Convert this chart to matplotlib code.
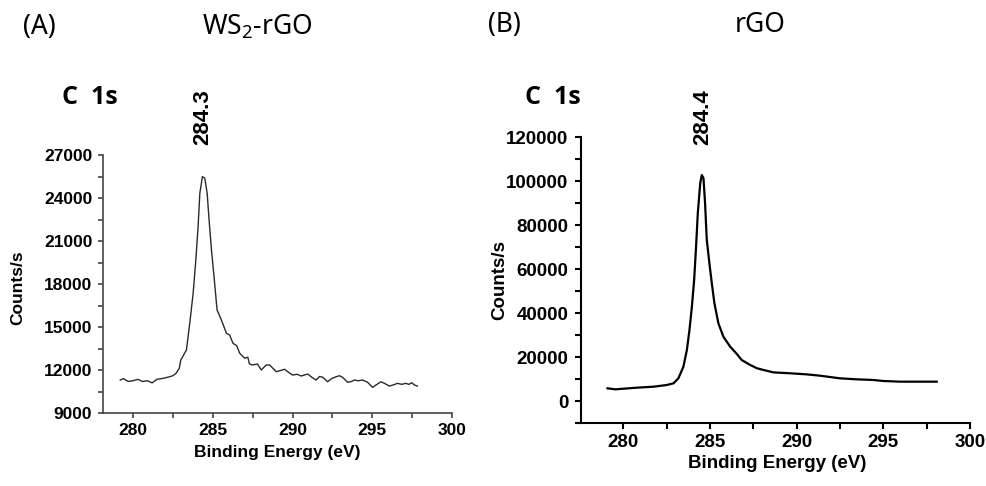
import matplotlib
matplotlib.use("Agg")
import matplotlib.pyplot as plt
from matplotlib.ticker import MultipleLocator
from matplotlib.font_manager import FontProperties

plt.rcParams['mathtext.fontset'] = 'custom'
plt.rcParams['mathtext.rm'] = 'Noto Sans'

# WS2-rGO, C 1s
energy_a = [279.2, 279.4, 279.7, 280.0, 280.3, 280.6, 280.9, 281.2, 281.5, 281.9,
            282.2, 282.5, 282.7, 282.9, 283.0, 283.35, 283.56, 283.77, 283.94, 284.08,
            284.19, 284.35, 284.5, 284.65, 284.77, 284.92, 285.08, 285.27, 285.54, 285.86,
            286.06, 286.27, 286.5, 286.69, 287.0, 287.2, 287.3, 287.5, 287.8, 288.04,
            288.35, 288.56, 288.77, 288.98, 289.2, 289.5, 289.8, 290.0, 290.3, 290.54,
            290.75, 290.96, 291.2, 291.48, 291.7, 291.9, 292.2, 292.45, 292.73, 292.95,
            293.14, 293.46, 293.7, 293.88, 294.1, 294.4, 294.7, 295.02, 295.3, 295.54,
            295.8, 296.06, 296.3, 296.58, 296.85, 297.1, 297.3, 297.48, 297.65, 297.83]
counts_a = [11300, 11400, 11200, 11250, 11350, 11200, 11250, 11100, 11350, 11420,
            11500, 11600, 11770, 12120, 12700, 13400, 15280, 17350, 19680, 22000,
            24330, 25490, 25380, 24330, 22470, 20370, 18510, 16190, 15490, 14560,
            14440, 13860, 13700, 13170, 12820, 12890, 12420, 12350, 12420, 12000,
            12350, 12350, 12120, 11880, 11950, 12050, 11800, 11650, 11700, 11580,
            11650, 11720, 11500, 11300, 11550, 11490, 11180, 11400, 11530, 11600,
            11490, 11140, 11200, 11300, 11250, 11300, 11150, 10790, 11000, 11180,
            11050, 10880, 10950, 11070, 11000, 11070, 11000, 11110, 10950, 10880]

# rGO, C 1s
energy_b = [279.08, 279.52, 280.77, 281.73, 282.5, 282.89, 283.17, 283.46, 283.66, 283.81,
            283.95, 284.08, 284.19, 284.29, 284.43, 284.52, 284.62, 284.71, 284.81, 284.96,
            285.1, 285.25, 285.48, 285.77, 286.16, 286.54, 286.83, 287.31, 287.7, 288.08,
            288.66, 289.62, 290.58, 291.35, 292.5, 293.47, 294.43, 295.0, 295.97, 297.12,
            298.08]
counts_b = [5770, 5300, 6050, 6500, 7270, 8050, 10300, 15600, 23200, 32300,
            42900, 55000, 70100, 85300, 98900, 102700, 101200, 89900, 73200, 62600,
            53500, 44400, 35300, 29200, 24700, 21400, 18600, 16400, 14900, 14100,
            13000, 12600, 12100, 11500, 10300, 9850, 9550, 9090, 8790, 8790,
            8790]

panel_tags = ["(A)", "(B)"]
panel_titles = [r"WS$_\mathregular{2}$-rGO", "rGO"]
peak_labels = ["284.3", "284.4"]

fig = plt.figure(figsize=(9.87, 4.86), dpi=100)
W, H = 987.0, 486.0

def fx(px):
    return px / W

def fy(py):
    return 1 - py / H

bold = dict(family='Liberation Sans', weight='bold')

# panel A
axa = fig.add_axes([fx(102.7), fy(413), fx(452) - fx(102.7), fy(155) - fy(413)])
axa.plot(energy_a, counts_a, color='#2a2a2a', lw=1.0)
axa.set_xlim(278.1, 300)
axa.set_ylim(9000, 27000)
axa.yaxis.set_major_locator(MultipleLocator(3000))
axa.yaxis.set_minor_locator(MultipleLocator(1500))
axa.xaxis.set_major_locator(MultipleLocator(5))
axa.xaxis.set_minor_locator(MultipleLocator(2.5))
for s in ['top', 'right']:
    axa.spines[s].set_visible(False)
for s in ['left', 'bottom']:
    axa.spines[s].set_color('#444444')
    axa.spines[s].set_linewidth(1.2)
axa.tick_params(which='both', direction='out', length=3.5, width=1.2, color='#444444')
axa.tick_params(axis='y', pad=4)
axa.tick_params(axis='x', pad=4)
for lab in axa.get_xticklabels() + axa.get_yticklabels():
    lab.set_fontproperties(FontProperties(size=12.5, **bold))

# panel B
axb = fig.add_axes([fx(581), fy(423), fx(970) - fx(581), fy(137) - fy(423)])
axb.plot(energy_b, counts_b, color='black', lw=1.6)
axb.set_xlim(277.55, 300)
axb.set_ylim(-10000, 120000)
axb.yaxis.set_major_locator(MultipleLocator(20000))
axb.yaxis.set_minor_locator(MultipleLocator(10000))
axb.xaxis.set_major_locator(MultipleLocator(5))
axb.xaxis.set_minor_locator(MultipleLocator(2.5))
for s in ['top', 'right']:
    axb.spines[s].set_visible(False)
for s in ['left', 'bottom']:
    axb.spines[s].set_linewidth(1.5)
axb.tick_params(which='both', direction='out', length=4, width=1.5, color='black')
axb.tick_params(axis='y', pad=5)
axb.tick_params(axis='x', pad=4)
for lab in axb.get_xticklabels() + axb.get_yticklabels():
    lab.set_fontproperties(FontProperties(size=13.5, **bold))

# titles and annotations
fig.text(fx(23), fy(27), panel_tags[0], fontsize=19, family='Noto Sans', ha='left', va='center')
fig.text(fx(488), fy(25), panel_tags[1], fontsize=19, family='Noto Sans', ha='left', va='center')
fig.text(fx(257), fy(27), panel_titles[0], fontsize=19, family='Noto Sans', ha='center', va='center')
fig.text(fx(760), fy(25), panel_titles[1], fontsize=19, family='Noto Sans', ha='center', va='center')

fig.text(fx(62), fy(97), "C  1s", fontsize=18, family='Open Sans', weight='bold', ha='left', va='center')
fig.text(fx(525), fy(97), "C  1s", fontsize=18, family='Open Sans', weight='bold', ha='left', va='center')

fig.text(fx(203), fy(117), peak_labels[0], fontsize=16, rotation=90, ha='center', va='center', **bold)
fig.text(fx(703), fy(117), peak_labels[1], fontsize=16, rotation=90, ha='center', va='center', **bold)

fig.text(fx(18), fy(288), "Counts/s", fontsize=12.5, rotation=90, ha='center', va='center', **bold)
fig.text(fx(500), fy(280), "Counts/s", fontsize=13.5, rotation=90, ha='center', va='center', **bold)
fig.text(fx(277), fy(452), "Binding Energy (eV)", fontsize=12.5, ha='center', va='center', **bold)
fig.text(fx(777), fy(463), "Binding Energy (eV)", fontsize=13.5, ha='center', va='center', **bold)

fig.savefig("out.png", dpi=100)
